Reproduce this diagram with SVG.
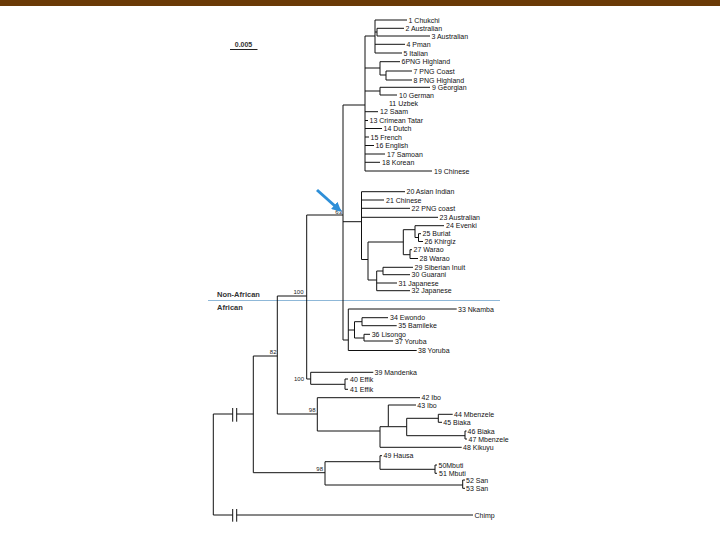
<svg xmlns="http://www.w3.org/2000/svg" width="720" height="540" viewBox="0 0 720 540">
<defs>
<style>
.br{stroke:#111;stroke-width:1;fill:none}
.lb{font-family:"Liberation Sans",Arial,sans-serif;font-size:7px;fill:#111}
.bs{font-family:"Liberation Sans",Arial,sans-serif;font-size:6px;fill:#222;text-anchor:end}
.hd{font-family:"Liberation Sans",Arial,sans-serif;font-size:7.5px;font-weight:bold;fill:#333}
</style>
<marker id="ah" viewBox="0 0 10 10" refX="8" refY="5" markerWidth="3.2" markerHeight="3.2" orient="auto" markerUnits="strokeWidth">
<path d="M0 0L10 5L0 10z" fill="#2e8fd8"/>
</marker>
</defs>
<rect width="720" height="540" fill="#fff"/>
<rect x="0" y="0" width="720" height="6" fill="#6a3a06"/>
<g id="scale">
<path d="M230 49.5H257.5" stroke="#222" stroke-width="1"/>
<text x="243.5" y="46.5" class="hd" style="font-size:7px;text-anchor:middle">0.005</text>
</g>
<g id="divider">
<path d="M208 300.5H500" stroke="#8fb8d8" stroke-width="1"/>
<text x="217" y="296.5" class="hd">Non-African</text>
<text x="217" y="309.5" class="hd">African</text>
</g>
<g id="connectors" class="br">
<path d="M365 36V171M365 36H375M375 20V53M375 32H377M377 28.3V36"/>
<path d="M365 68H380M380 61.7V75M380 75H386M386 71V80M365 91H380M380 87.3V95"/>
<path d="M343 105H365M343 105V340M306.7 215H343"/>
<path d="M343 221.7H361.5M361.5 191.7V259.5M361.5 259.5H368M368 242V280"/>
<path d="M368 242H403.3M403.3 229.7V254.7M403.3 229.7H415M415 225.7V237.5M415 237.5H418.5M418.5 233.7V241.5M403.3 254.7H410M410 249.7V258.5"/>
<path d="M368 280H376.7M376.7 271V290.7M376.7 271H383M383 267.3V274.7"/>
<path d="M343 340H348.3M348.3 309V350.5M348.3 330H354.5M354.5 321.7V338M354.5 321.7H362M362 317.7V325.7M354.5 338H364M364 334.3V341"/>
<path d="M306.7 215V379M306.7 379H310.7M310.7 372.3V384.3M310.7 384.3H345M345 379V389.3"/>
<path d="M277.3 296H306.7M277.3 296V414M277.3 414H317.3M317.3 397.7V431M317.3 431H380M380 426.7V447.3"/>
<path d="M380 426.7H388.3M388.3 405V426.7M388.3 426.7H406.7M406.7 418.3V435.7M406.7 418.3H438.3M438.3 414.3V422.3M406.7 435.7H465M465 431V439"/>
<path d="M253.3 356H277.3M253.3 356V472.7M253.3 472.7H325M325 461.7V485M325 461.7H380M380 455.7V469.3M380 469.3H435M435 465V473.3M325 485H462.7M462.7 480V488.3"/>
<path d="M213.3 414V515M213.3 414H232.7M236.7 414H253.3M213.3 515H232.7"/>
<path d="M232.7 408V421.7M236.7 408V421.7M232.7 509V521.7M236.7 509V521.7"/>
</g>
<g id="support">
<text x="342" y="213.5" class="bs">63</text>
<text x="303.5" y="294" class="bs">100</text>
<text x="276.5" y="353.5" class="bs">82</text>
<text x="304" y="381" class="bs">100</text>
<text x="315.5" y="411.5" class="bs">98</text>
<text x="323" y="471" class="bs">98</text>
</g>
<path id="pointer" d="M317 190L340 210.5" stroke="#2e8fd8" stroke-width="3" fill="none" marker-end="url(#ah)"/>
<g id="t1"><path class="br" d="M375 20H407"/><text class="lb" x="408.5" y="22.5">1 Chukchi</text></g>
<g id="t2"><path class="br" d="M377 28.3H404"/><text class="lb" x="405.5" y="30.8">2 Australian</text></g>
<g id="t3"><path class="br" d="M377 36H430"/><text class="lb" x="431.5" y="38.5">3 Australian</text></g>
<g id="t4"><path class="br" d="M375 44.3H405"/><text class="lb" x="406.5" y="46.8">4 Pman</text></g>
<g id="t5"><path class="br" d="M375 53H402"/><text class="lb" x="403.5" y="55.5">5 Italian</text></g>
<g id="t6"><path class="br" d="M380 61.7H400"/><text class="lb" x="401.5" y="64.2">6PNG Highland</text></g>
<g id="t7"><path class="br" d="M386 71H412"/><text class="lb" x="413.5" y="73.5">7 PNG Coast</text></g>
<g id="t8"><path class="br" d="M386 80H412"/><text class="lb" x="413.5" y="82.5">8 PNG Highland</text></g>
<g id="t9"><path class="br" d="M380 87.3H430"/><text class="lb" x="432" y="89.8">9 Georgian</text></g>
<g id="t10"><path class="br" d="M380 95H397"/><text class="lb" x="399" y="97.5">10 German</text></g>
<g id="t11"><text class="lb" x="389" y="105.5">11 Uzbek</text></g>
<g id="t12"><path class="br" d="M365 111.7H378"/><text class="lb" x="380" y="114.2">12 Saam</text></g>
<g id="t13"><path class="br" d="M365 120.5H368"/><text class="lb" x="369.5" y="123">13 Crimean Tatar</text></g>
<g id="t14"><path class="br" d="M365 128.5H382"/><text class="lb" x="383.5" y="131">14 Dutch</text></g>
<g id="t15"><path class="br" d="M365 137H369"/><text class="lb" x="370.5" y="139.5">15 French</text></g>
<g id="t16"><path class="br" d="M365 145.5H374"/><text class="lb" x="375.5" y="148">16 English</text></g>
<g id="t17"><path class="br" d="M365 154H385"/><text class="lb" x="387" y="156.5">17 Samoan</text></g>
<g id="t18"><path class="br" d="M365 162.3H380"/><text class="lb" x="382" y="164.8">18 Korean</text></g>
<g id="t19"><path class="br" d="M365 171H432"/><text class="lb" x="434" y="173.5">19 Chinese</text></g>
<g id="t20"><path class="br" d="M361.5 191.7H405"/><text class="lb" x="406.5" y="194.2">20 Asian Indian</text></g>
<g id="t21"><path class="br" d="M361.5 200H384"/><text class="lb" x="386" y="202.5">21 Chinese</text></g>
<g id="t22"><path class="br" d="M361.5 208.3H410"/><text class="lb" x="411.5" y="210.8">22 PNG coast</text></g>
<g id="t23"><path class="br" d="M361.5 217.3H438"/><text class="lb" x="439.5" y="219.8">23 Australian</text></g>
<g id="t24"><path class="br" d="M415 225.7H444"/><text class="lb" x="446" y="228.2">24 Evenki</text></g>
<g id="t25"><path class="br" d="M418.5 233.7H421"/><text class="lb" x="422.5" y="236.2">25 Buriat</text></g>
<g id="t26"><path class="br" d="M418.5 241.5H423"/><text class="lb" x="424.5" y="244">26 Khirgiz</text></g>
<g id="t27"><path class="br" d="M410 249.7H412"/><text class="lb" x="413.5" y="252.2">27 Warao</text></g>
<g id="t28"><path class="br" d="M410 258.5H418"/><text class="lb" x="419.5" y="261">28 Warao</text></g>
<g id="t29"><path class="br" d="M383 267.3H413"/><text class="lb" x="414.5" y="269.8">29 Siberian Inuit</text></g>
<g id="t30"><path class="br" d="M383 274.7H410"/><text class="lb" x="411.5" y="277.2">30 Guarani</text></g>
<g id="t31"><path class="br" d="M376.7 283H397"/><text class="lb" x="398.5" y="285.5">31 Japanese</text></g>
<g id="t32"><path class="br" d="M376.7 290.7H410"/><text class="lb" x="411.5" y="293.2">32 Japanese</text></g>
<g id="t33"><path class="br" d="M348.3 309H456.7"/><text class="lb" x="458" y="311.5">33 Nkamba</text></g>
<g id="t34"><path class="br" d="M362 317.7H388"/><text class="lb" x="390" y="320.2">34 Ewondo</text></g>
<g id="t35"><path class="br" d="M362 325.7H396.7"/><text class="lb" x="398.3" y="328.2">35 Bamileke</text></g>
<g id="t36"><path class="br" d="M364 334.3H370"/><text class="lb" x="371.7" y="336.8">36 Lisongo</text></g>
<g id="t37"><path class="br" d="M364 341H393"/><text class="lb" x="395" y="343.5">37 Yoruba</text></g>
<g id="t38"><path class="br" d="M348.3 350.5H416.7"/><text class="lb" x="418" y="353">38 Yoruba</text></g>
<g id="t39"><path class="br" d="M310.7 372.3H373.3"/><text class="lb" x="374.5" y="374.8">39 Mandenka</text></g>
<g id="t40"><path class="br" d="M345 379H348"/><text class="lb" x="350" y="381.5">40 Effik</text></g>
<g id="t41"><path class="br" d="M345 389.3H348"/><text class="lb" x="350" y="391.8">41 Effik</text></g>
<g id="t42"><path class="br" d="M317.3 397.7H420"/><text class="lb" x="421.5" y="400.2">42 Ibo</text></g>
<g id="t43"><path class="br" d="M388.3 405H416"/><text class="lb" x="417.3" y="407.5">43 Ibo</text></g>
<g id="t44"><path class="br" d="M438.3 414.3H452.7"/><text class="lb" x="454" y="416.8">44 Mbenzele</text></g>
<g id="t45"><path class="br" d="M438.3 422.3H442"/><text class="lb" x="443.3" y="424.8">45 Biaka</text></g>
<g id="t46"><path class="br" d="M465 431H466.5"/><text class="lb" x="467.5" y="433.5">46 Biaka</text></g>
<g id="t47"><path class="br" d="M465 439H467"/><text class="lb" x="468.5" y="441.5">47 Mbenzele</text></g>
<g id="t48"><path class="br" d="M380 447.3H461.7"/><text class="lb" x="463" y="449.8">48 Kikuyu</text></g>
<g id="t49"><path class="br" d="M380 455.7H382"/><text class="lb" x="383.5" y="458.2">49 Hausa</text></g>
<g id="t50"><path class="br" d="M435 465H437"/><text class="lb" x="438.5" y="467.5">50Mbuti</text></g>
<g id="t51"><path class="br" d="M435 473.3H437"/><text class="lb" x="439" y="475.8">51 Mbuti</text></g>
<g id="t52"><path class="br" d="M462.7 480H465"/><text class="lb" x="466" y="482.5">52 San</text></g>
<g id="t53"><path class="br" d="M462.7 488.3H465"/><text class="lb" x="466" y="490.8">53 San</text></g>
<g id="chimp"><path class="br" d="M236.7 515H473"/><text class="lb" x="474.5" y="517.5">Chimp</text></g>
</svg>
